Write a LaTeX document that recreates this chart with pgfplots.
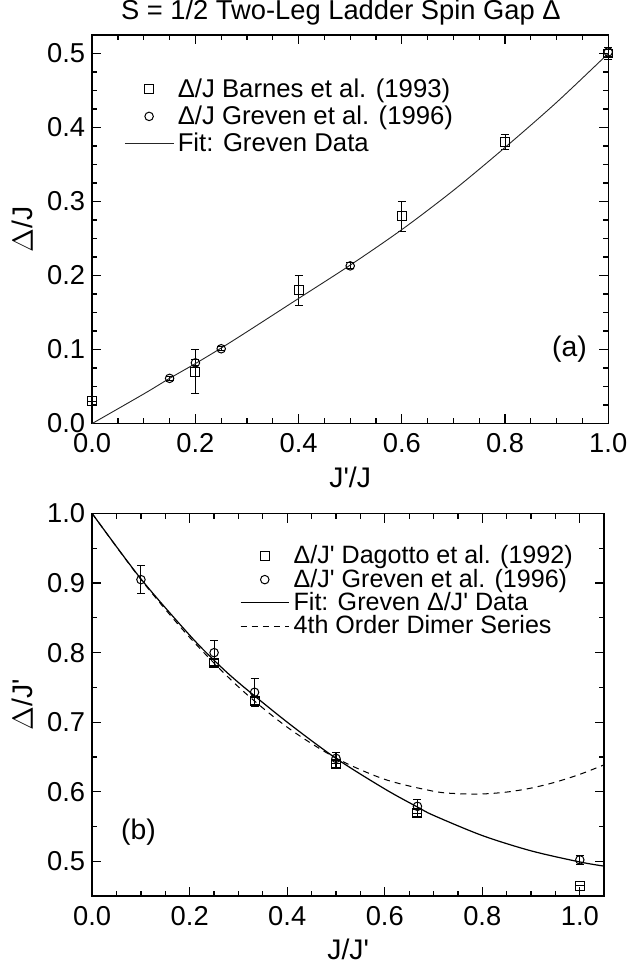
\documentclass[border=0pt]{standalone}
\usepackage{pgfplots}
\pgfplotsset{compat=1.18}
\usepackage{fontspec}
\setmainfont{Liberation Sans}[Ligatures=TeXOff]
\begin{document}
\pgfplotsset{
  every axis/.append style={
    scale only axis,
    axis line style={line width=0.7pt},
    tick style={line width=0.6pt, black},
    tick align=inside,
    major tick length=4.5pt,
    minor tick length=2.5pt,
    /pgf/number format/assume math mode=true,
    /pgf/number format/fixed,
    /pgf/number format/fixed zerofill,
    /pgf/number format/precision=1,
    tick label style={font=\fontsize{13.5}{14}\selectfont},
    xticklabel style={yshift=-1.5pt},
    label style={font=\fontsize{14}{14}\selectfont},
    legend cell align=left,
    legend image code/.code={\draw[mark repeat=2,mark phase=2,#1] plot coordinates {(0cm,0cm) (0.42cm,0cm) (0.84cm,0cm)};},
  },
  sq/.style={only marks, mark=square, mark size=2.2pt, black, line width=0.5pt,
    error bars/.cd, y dir=both, y explicit, error bar style={line width=0.5pt}, error mark options={rotate=90, mark size=2pt, line width=0.5pt}},
  ci/.style={only marks, mark=o, mark size=2.1pt, black, line width=0.5pt,
    error bars/.cd, y dir=both, y explicit, error bar style={line width=0.5pt}, error mark options={rotate=90, mark size=2pt, line width=0.5pt}},
}
\begin{tikzpicture}
\begin{axis}[
  at={(0,0)}, anchor=south west,
  width=255pt, height=192pt,
  xmin=0, xmax=1.0, ymin=0, ymax=0.525,
  xtick={0,0.2,...,1.0}, ytick={0,0.1,...,0.5},
  minor x tick num=3, minor y tick num=3,
  xlabel={J'/J}, ylabel={$\Delta$/J},
  clip=false,
  legend style={draw=none, fill=none, at={(axis description cs:0.05,0.91)}, anchor=north west, font=\fontsize{12.7}{13}\selectfont, row sep=-1.3pt},
]
\addplot+[sq] coordinates {(0,0.03) +- (0,0) (0.2,0.07) +- (0,0.03) (0.4,0.18) +- (0,0.02) (0.6,0.28) +- (0,0.02) (0.8,0.38) +- (0,0.01) (1.0,0.50) +- (0,0.008)};
\addlegendentry{Δ/J Barnes et al. (1993)}
\addplot+[ci] coordinates {(0.15,0.061) +- (0,0.003) (0.2,0.082) +- (0,0.004) (0.25,0.101) +- (0,0.003) (0.5,0.213) +- (0,0.004) (1.0,0.502) +- (0,0.006)};
\addlegendentry{Δ/J Greven et al. (1996)}
\addplot[black!85, line width=0.45pt, smooth] coordinates {(0,0) (0.1,0.040) (0.15,0.061) (0.2,0.081) (0.25,0.102) (0.3,0.124) (0.4,0.169) (0.5,0.214) (0.6,0.262) (0.7,0.315) (0.8,0.373) (0.9,0.434) (1.0,0.500)};
\addlegendentry{Fit: Greven Data}
\node[font=\fontsize{14}{14}\selectfont] at (axis cs:0.925,0.1) {(a)};
\node[font=\fontsize{13.5}{14}\selectfont, anchor=base, inner sep=0pt] at ([yshift=7.5pt]axis description cs:0.482,1) {S = 1/2 Two-Leg Ladder Spin Gap Δ};
\end{axis}
\begin{axis}[
  at={(0,-44.5pt)}, anchor=north west,
  width=253pt, height=189pt,
  xmin=0, xmax=1.05, ymin=0.45, ymax=1.0,
  xtick={0,0.2,...,1.0}, ytick={0.5,0.6,...,1.0},
  minor x tick num=3, minor y tick num=1,
  xlabel={J/J'}, ylabel={$\Delta$/J'},
  legend style={draw=none, fill=none, at={(axis description cs:0.276,0.938)}, anchor=north west, font=\fontsize{12.4}{13}\selectfont, row sep=-3pt},
]
\addplot+[sq] coordinates {(0.25,0.785) +- (0,0.005) (0.333,0.730) +- (0,0.005) (0.5,0.640) +- (0,0.005) (0.667,0.570) +- (0,0.005) (1.0,0.465) +- (0,0)};
\addlegendentry{Δ/J' Dagotto et al. (1992)}
\addplot+[ci] coordinates {(0.1,0.905) +- (0,0.02) (0.25,0.800) +- (0,0.018) (0.333,0.743) +- (0,0.02) (0.5,0.648) +- (0,0.008) (0.667,0.579) +- (0,0.01) (1.0,0.502) +- (0,0.007)};
\addlegendentry{Δ/J' Greven et al. (1996)}
\addplot[black, line width=0.6pt, smooth] coordinates {(0,1.0) (0.1,0.906) (0.2,0.825) (0.25,0.789) (0.3,0.757) (0.4,0.700) (0.5,0.648) (0.6,0.604) (0.667,0.578) (0.7,0.566) (0.8,0.537) (0.9,0.515) (1.0,0.499) (1.05,0.493)};
\addlegendentry{Fit: Greven Δ/J' Data}
\addplot[black, line width=0.5pt, dashed, dash pattern=on 3pt off 2.5pt, smooth] coordinates {(0,1.0) (0.1,0.9052) (0.2,0.8218) (0.3,0.7507) (0.4,0.6928) (0.5,0.6484) (0.6,0.6178) (0.7,0.6007) (0.75,0.5972) (0.8,0.5968) (0.85,0.5995) (0.9,0.6052) (0.95,0.6138) (1.0,0.625) (1.05,0.6387)};
\addlegendentry{4th Order Dimer Series}
\node[font=\fontsize{14}{14}\selectfont] at (axis cs:0.095,0.542) {(b)};
\end{axis}
\end{tikzpicture}
\end{document}
